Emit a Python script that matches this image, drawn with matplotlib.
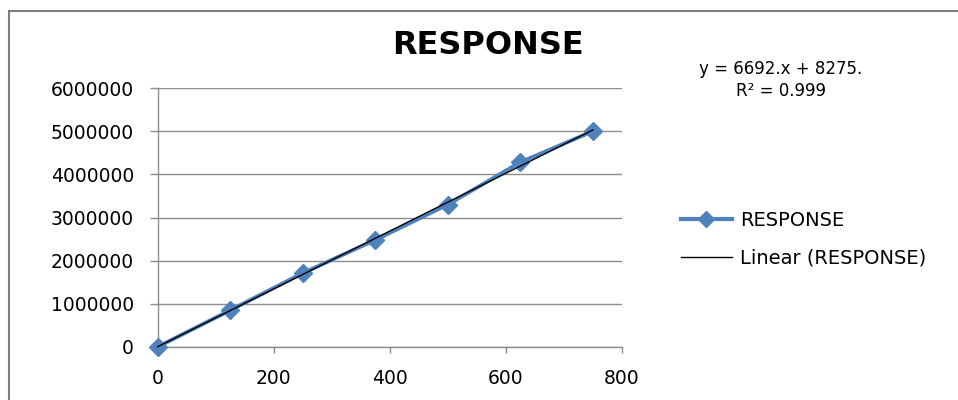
import matplotlib
matplotlib.use("Agg")
import matplotlib.pyplot as plt
import numpy as np
from matplotlib.lines import Line2D
from matplotlib.patches import Rectangle

# values
concentration = [0, 125, 250, 375, 500, 625, 750]
response = [0, 850000, 1710000, 2480000, 3300000, 4280000, 5000000]
y_ticks = [0, 1000000, 2000000, 3000000, 4000000, 5000000, 6000000]
x_ticks = [0, 200, 400, 600, 800]
title = "RESPONSE"
series_label = "RESPONSE"
trend_label = "Linear (RESPONSE)"
equation_text = "y = 6692.x + 8275.\nR\u00b2 = 0.999"

blue = "#4f81bd"
grid_gray = "#8c8c8c"

plt.rcParams["font.family"] = ["DejaVu Sans"]

fig = plt.figure(figsize=(9.58, 4.0), dpi=100)
ax = fig.add_axes([157.5 / 958, 1 - 347 / 400, (622 - 157.5) / 958, (347 - 88) / 400])

# chart frame (cropped by the picture edge on right and bottom)
fig.patches.append(Rectangle((9 / 958, -0.1), 1.2, 1.1 - 11 / 400,
                             transform=fig.transFigure, fill=False,
                             edgecolor="#7f7f7f", linewidth=1.5))

ax.set_xlim(0, 800)
ax.set_ylim(0, 6000000)
ax.set_yticks(y_ticks)
ax.set_yticklabels([str(v) for v in y_ticks])
ax.set_xticks(x_ticks)
ax.set_xticklabels([str(v) for v in x_ticks])

ax.yaxis.grid(True, color=grid_gray, linewidth=1)
ax.set_axisbelow(True)
for side in ["top", "right"]:
    ax.spines[side].set_visible(False)
for side in ["left", "bottom"]:
    ax.spines[side].set_color(grid_gray)
    ax.spines[side].set_linewidth(1)

ax.tick_params(axis="y", length=6, width=1, color=grid_gray, pad=11,
               labelsize=13.5)
ax.tick_params(axis="x", length=4, width=1, color=grid_gray, pad=12,
               labelsize=13.5)

# trendline from a least squares fit
slope, intercept = np.polyfit(concentration, response, 1)
trend_x = np.array([concentration[0], concentration[-1]])
ax.plot(trend_x, slope * trend_x + intercept, color="black", linewidth=1,
        zorder=4, clip_on=False)

ax.plot(concentration, response, color=blue, linewidth=2.8, marker="D",
        markersize=9, markeredgecolor=blue, zorder=3, clip_on=False)

fig.text(488 / 958, 1 - 45 / 400, title, ha="center", va="center",
         fontsize=23, fontweight="bold")

fig.text(781 / 958, 1 - 80 / 400, equation_text, ha="center", va="center",
         fontsize=12, linespacing=1.25)

handles = [
    Line2D([], [], color=blue, linewidth=3, marker="D", markersize=8),
    Line2D([], [], color="black", linewidth=1),
]
ax.legend(handles, [series_label, trend_label], loc="upper left",
          bbox_to_anchor=(681 / 958, 1 - 211 / 400),
          bbox_transform=fig.transFigure, frameon=False, fontsize=14,
          handlelength=2.6, handletextpad=0.45, labelspacing=0.95,
          borderpad=0, borderaxespad=0)

fig.savefig("out.png", dpi=100)
